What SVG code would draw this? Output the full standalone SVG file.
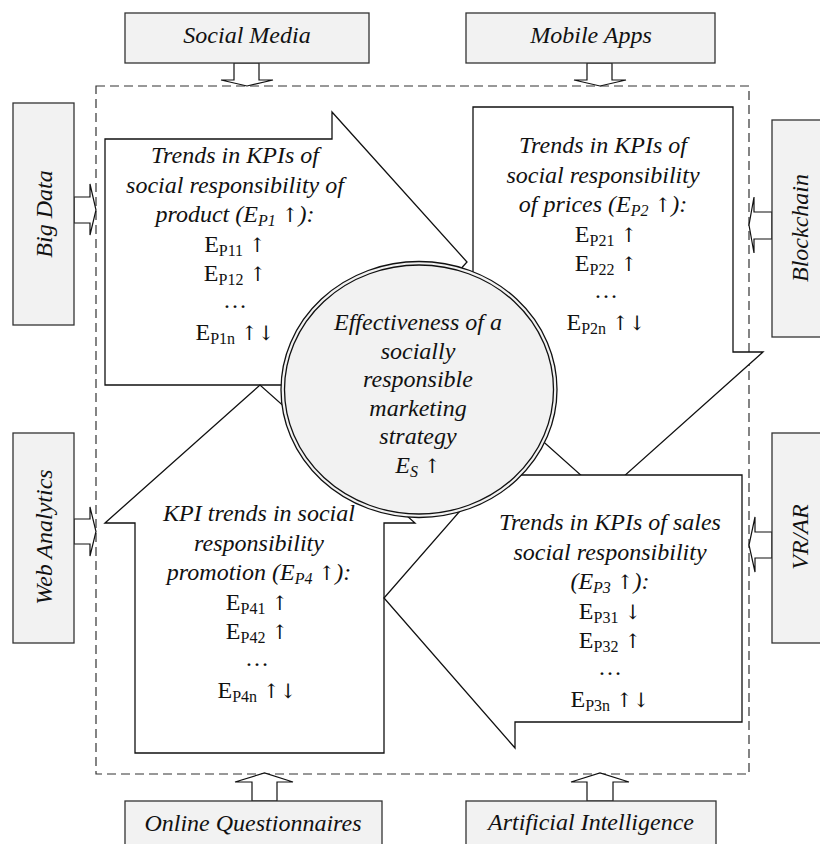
<svg xmlns="http://www.w3.org/2000/svg" width="820" height="844" viewBox="0 0 820 844">
<style>
.box{fill:#f2f2f2;stroke:#333;stroke-width:1.3}
.shape{fill:#fff;stroke:#111;stroke-width:1.3}
.arr{fill:#fff;stroke:#111;stroke-width:1.2}
.dash{fill:none;stroke:#333;stroke-width:1.2;stroke-dasharray:9 5}
.it{font-family:'Liberation Serif','Times New Roman','DejaVu Serif',serif;font-style:italic;font-size:24px;fill:#111;text-anchor:middle}
.rg{font-family:'Liberation Serif','Times New Roman','DejaVu Serif',serif;font-size:24px;fill:#111;text-anchor:middle}
.sb{font-size:16px}
.ar{font-family:'DejaVu Serif','DejaVu Sans',serif;font-style:normal;font-size:20px}
</style>
<rect width="820" height="844" fill="#fff"/>
<rect class="dash" x="96" y="86" width="653" height="688"/>
<g id="connectors">
<polygon class="arr" points="234,63 259,63 259,80 273,80 247,86 221,80 234,80"/>
<polygon class="arr" points="587,63 612,63 612,80 626,80 600,86 574,80 587,80"/>
<polygon class="arr" points="74,197 90,197 90,184 96,210 90,235 90,223 74,223"/>
<polygon class="arr" points="772,212 754,212 754,197 749,225 754,253 754,239 772,239"/>
<polygon class="arr" points="74,519 90,519 90,507 96,531.5 90,556 90,544 74,544"/>
<polygon class="arr" points="772,532 755,532 755,517 749,545 755,572 755,558 772,558"/>
<polygon class="arr" points="252,801 277,801 277,782 293,782 264.5,773 235,782 252,782"/>
<polygon class="arr" points="587,801 613,801 613,782 629,782 600,773 571,782 587,782"/>
</g>
<g id="social-media"><rect class="box" x="125" y="13" width="244" height="50"/><text class="it" x="247" y="43">Social Media</text></g>
<g id="mobile-apps"><rect class="box" x="466" y="13" width="249" height="50"/><text class="it" x="591" y="43">Mobile Apps</text></g>
<g id="big-data"><rect class="box" x="13" y="103" width="61" height="222"/><text class="it" transform="translate(52,214) rotate(-90)">Big Data</text></g>
<g id="blockchain"><rect class="box" x="772" y="120" width="61" height="217"/><text class="it" transform="translate(808,228) rotate(-90)">Blockchain</text></g>
<g id="web-analytics"><rect class="box" x="13" y="433" width="61" height="210"/><text class="it" transform="translate(52,537) rotate(-90)">Web Analytics</text></g>
<g id="vr-ar"><rect class="box" x="772" y="433" width="61" height="210"/><text class="it" transform="translate(808,537) rotate(-90)">VR/AR</text></g>
<g id="online-questionnaires"><rect class="box" x="125" y="801" width="257" height="50"/><text class="it" x="253" y="831">Online Questionnaires</text></g>
<g id="artificial-intelligence"><rect class="box" x="466" y="801" width="250" height="50"/><text class="it" x="591" y="830">Artificial Intelligence</text></g>
<g id="product">
<polygon class="shape" points="105,139 332,139 332,112 467,262 332,412 332,385 105,385"/>
<text class="it" x="235" y="163">Trends in KPIs of</text>
<text class="it" x="235" y="192.5">social responsibility of</text>
<text class="it" x="235" y="222">product (E<tspan class="sb" dy="4">P1</tspan><tspan dy="-4"> </tspan><tspan class="ar">↑</tspan>):</text>
<text class="rg" x="235" y="251.5">E<tspan class="sb" dy="4">P11</tspan><tspan dy="-4"> </tspan><tspan class="ar">↑</tspan></text>
<text class="rg" x="235" y="281">E<tspan class="sb" dy="4">P12</tspan><tspan dy="-4"> </tspan><tspan class="ar">↑</tspan></text>
<text class="rg" x="235" y="308">…</text>
<text class="rg" x="235" y="340">E<tspan class="sb" dy="4">P1n</tspan><tspan dy="-4"> </tspan><tspan class="ar">↑↓</tspan></text>
</g>
<g id="prices">
<polygon class="shape" points="473,107 733,107 733,352 763,352 603,495 443,352 473,352"/>
<text class="it" x="603" y="153">Trends in KPIs of</text>
<text class="it" x="603" y="182.5">social responsibility</text>
<text class="it" x="603" y="212">of prices (E<tspan class="sb" dy="4">P2</tspan><tspan dy="-4"> </tspan><tspan class="ar">↑</tspan>):</text>
<text class="rg" x="606" y="241.5">E<tspan class="sb" dy="4">P21</tspan><tspan dy="-4"> </tspan><tspan class="ar">↑</tspan></text>
<text class="rg" x="606" y="271">E<tspan class="sb" dy="4">P22</tspan><tspan dy="-4"> </tspan><tspan class="ar">↑</tspan></text>
<text class="rg" x="606" y="298">…</text>
<text class="rg" x="606" y="330">E<tspan class="sb" dy="4">P2n</tspan><tspan dy="-4"> </tspan><tspan class="ar">↑↓</tspan></text>
</g>
<g id="promotion">
<polygon class="shape" points="105,523 260,385 415,523 384,523 384,753 135,753 135,523"/>
<text class="it" x="259" y="521">KPI trends in social</text>
<text class="it" x="259" y="550.5">responsibility</text>
<text class="it" x="259" y="580">promotion (E<tspan class="sb" dy="4">P4</tspan><tspan dy="-4"> </tspan><tspan class="ar">↑</tspan>):</text>
<text class="rg" x="257" y="609.5">E<tspan class="sb" dy="4">P41</tspan><tspan dy="-4"> </tspan><tspan class="ar">↑</tspan></text>
<text class="rg" x="257" y="639">E<tspan class="sb" dy="4">P42</tspan><tspan dy="-4"> </tspan><tspan class="ar">↑</tspan></text>
<text class="rg" x="257" y="666">…</text>
<text class="rg" x="257" y="698">E<tspan class="sb" dy="4">P4n</tspan><tspan dy="-4"> </tspan><tspan class="ar">↑↓</tspan></text>
</g>
<g id="sales">
<polygon class="shape" points="515,475 742,475 742,722 515,722 515,748 384,598 515,448"/>
<text class="it" x="610" y="530">Trends in KPIs of sales</text>
<text class="it" x="610" y="559.5">social responsibility</text>
<text class="it" x="610" y="589">(E<tspan class="sb" dy="4">P3</tspan><tspan dy="-4"> </tspan><tspan class="ar">↑</tspan>):</text>
<text class="rg" x="610" y="618.5">E<tspan class="sb" dy="4">P31</tspan><tspan dy="-4"> </tspan><tspan class="ar">↓</tspan></text>
<text class="rg" x="610" y="648">E<tspan class="sb" dy="4">P32</tspan><tspan dy="-4"> </tspan><tspan class="ar">↑</tspan></text>
<text class="rg" x="610" y="675">…</text>
<text class="rg" x="610" y="707">E<tspan class="sb" dy="4">P3n</tspan><tspan dy="-4"> </tspan><tspan class="ar">↑↓</tspan></text>
</g>
<g id="strategy">
<ellipse cx="419" cy="389.5" rx="138" ry="128" fill="#f2f2f2" stroke="#111" stroke-width="1.3"/>
<ellipse cx="419" cy="389.5" rx="134.5" ry="124.5" fill="none" stroke="#111" stroke-width="1.3"/>
<text class="it" x="418" y="330">Effectiveness of a</text>
<text class="it" x="418" y="358.5">socially</text>
<text class="it" x="418" y="387">responsible</text>
<text class="it" x="418" y="415.5">marketing</text>
<text class="it" x="418" y="444">strategy</text>
<text class="it" x="418" y="472.5">E<tspan class="sb" dy="4">S</tspan><tspan dy="-4"> </tspan><tspan class="ar">↑</tspan></text>
</g>
</svg>
